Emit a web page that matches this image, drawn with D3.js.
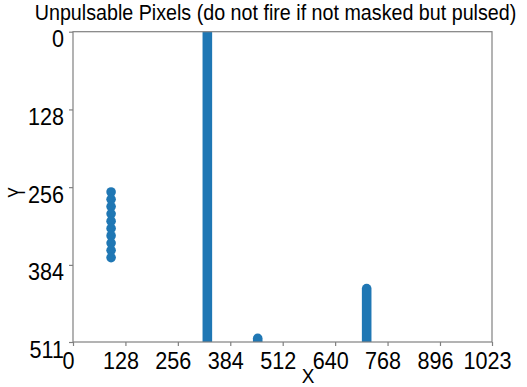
<!DOCTYPE html>
<html>
<head>
<meta charset="utf-8">
<script src="https://cdn.jsdelivr.net/npm/d3@7"></script>
<style>
  html, body { margin: 0; padding: 0; background: #fff; }
  svg { display: block; }
  text { font-family: "Liberation Sans", Arial, Helvetica, sans-serif; fill: #000; }
</style>
</head>
<body>
<svg id="chart" width="527" height="387"></svg>
<script>
// Isolated unpulsable pixels (single points)
const dotX = [93, 93, 93, 93, 93, 93, 93, 93, 93, 93];
const dotY = [264, 276, 288, 300, 312, 324, 336, 348, 360, 372];

// Contiguous runs of unpulsable pixels along a column: x, first row, last row
const runX = [328, 451, 717];
const runY0 = [0, 505, 423];
const runY1 = [511, 511, 511];

// Axis ticks
const xTicks = [0, 128, 256, 384, 512, 640, 768, 896, 1023];
const yTicks = [0, 128, 256, 384, 511];

const titleText = "Unpulsable Pixels (do not fire if not masked but pulsed)";

const svg = d3.select("#chart");
const plotLeft = 73, plotRight = 492, plotTop = 31.7, plotBottom = 342;
const blue = "#1f77b4";
const axisGrey = "#808080";
const r = 4.8;

const x = d3.scaleLinear().domain([0, 1023]).range([plotLeft, plotRight]);
const y = d3.scaleLinear().domain([0, 511]).range([plotTop, plotBottom]);

svg.append("defs").append("clipPath").attr("id", "plotClip")
  .append("rect")
  .attr("x", plotLeft).attr("y", plotTop)
  .attr("width", plotRight - plotLeft).attr("height", plotBottom - plotTop);

// Title
svg.append("text")
  .attr("transform", "translate(275.5,20) scale(1,1.15)")
  .attr("text-anchor", "middle")
  .attr("font-size", 19.7)
  .text(titleText);

const marks = svg.append("g").attr("clip-path", "url(#plotClip)");

// Column runs drawn as capsules of marker width
marks.selectAll("line.run")
  .data(runX.map((d, i) => ({ x: d, y0: runY0[i], y1: runY1[i] })))
  .join("line")
  .attr("class", "run")
  .attr("x1", d => x(d.x)).attr("x2", d => x(d.x))
  .attr("y1", d => y(d.y0)).attr("y2", d => y(d.y1))
  .attr("stroke", blue)
  .attr("stroke-width", 2 * r)
  .attr("stroke-linecap", "round");

// Individual pixels
marks.selectAll("circle.dot")
  .data(dotX.map((d, i) => ({ x: d, y: dotY[i] })))
  .join("circle")
  .attr("class", "dot")
  .attr("cx", d => x(d.x))
  .attr("cy", d => y(d.y))
  .attr("r", r)
  .attr("fill", blue);

// Frame
svg.append("rect")
  .attr("x", plotLeft).attr("y", plotTop)
  .attr("width", plotRight - plotLeft).attr("height", plotBottom - plotTop)
  .attr("fill", "none")
  .attr("stroke", axisGrey)
  .attr("stroke-width", 1.2);

// Bottom axis
const xAxis = d3.axisBottom(x).tickValues(xTicks).tickSize(4).tickFormat(d3.format("d"));
const gx = svg.append("g").attr("transform", `translate(0,${plotBottom})`).call(xAxis);
gx.select(".domain").remove();
gx.selectAll(".tick line").attr("stroke", axisGrey).attr("stroke-width", 1.2);
gx.selectAll(".tick text")
  .attr("y", 0).attr("dy", null)
  .attr("transform", "translate(-5,27) scale(1,1.1)")
  .attr("font-size", 21.6)
  .attr("font-family", "Liberation Sans, Arial, sans-serif")
  .attr("fill", "#000");

// Left axis
const yAxis = d3.axisLeft(y).tickValues(yTicks).tickSize(4).tickFormat(d3.format("d"));
const gy = svg.append("g").attr("transform", `translate(${plotLeft},0)`).call(yAxis);
gy.select(".domain").remove();
gy.selectAll(".tick line").attr("stroke", axisGrey).attr("stroke-width", 1.2);
gy.selectAll(".tick text")
  .attr("x", 0).attr("dy", null)
  .attr("transform", "translate(-9,15) scale(1,1.1)")
  .attr("font-size", 21.6)
  .attr("font-family", "Liberation Sans, Arial, sans-serif")
  .attr("fill", "#000");

// Axis labels
svg.append("text")
  .attr("transform", "translate(308,383) scale(1,1.05)")
  .attr("text-anchor", "middle")
  .attr("font-size", 19)
  .text("X");

svg.append("text")
  .attr("transform", "translate(25,192.5) rotate(-90) scale(0.75,1.1)")
  .attr("text-anchor", "middle")
  .attr("font-size", 21)
  .text("Y");
</script>
</body>
</html>
